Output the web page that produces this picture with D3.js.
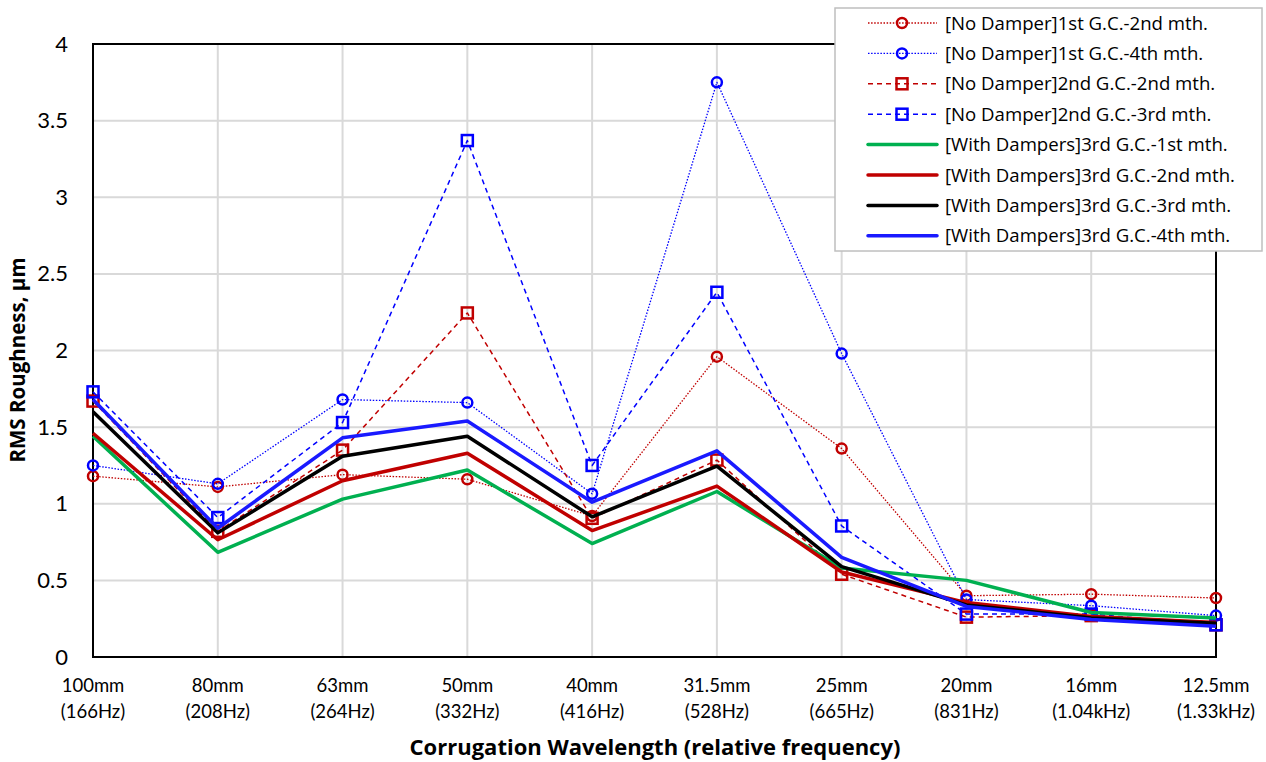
<!DOCTYPE html>
<html>
<head>
<meta charset="utf-8">
<script src="https://cdn.jsdelivr.net/npm/d3@7"></script>
<style>
  body { margin: 0; background: #fff; }
  text { font-family: Lato, "Open Sans", sans-serif; fill: #000; }
</style>
</head>
<body>
<svg id="chart"></svg>
<script>
const w = 1266;
const h = 762;

const wavelengths = ['100mm', '80mm', '63mm', '50mm', '40mm', '31.5mm', '25mm', '20mm', '16mm', '12.5mm'];
const freqs = ['(166Hz)', '(208Hz)', '(264Hz)', '(332Hz)', '(416Hz)', '(528Hz)', '(665Hz)', '(831Hz)', '(1.04kHz)', '(1.33kHz)'];
const yTicks = [0, 0.5, 1, 1.5, 2, 2.5, 3, 3.5, 4];

const seriesNames = [
  '[No Damper]1st G.C.-2nd mth.',
  '[No Damper]1st G.C.-4th mth.',
  '[No Damper]2nd G.C.-2nd mth.',
  '[No Damper]2nd G.C.-3rd mth.',
  '[With Dampers]3rd G.C.-1st mth.',
  '[With Dampers]3rd G.C.-2nd mth.',
  '[With Dampers]3rd G.C.-3rd mth.',
  '[With Dampers]3rd G.C.-4th mth.'
];

const nd1st2nd = [1.18, 1.11, 1.19, 1.16, 0.92, 1.96, 1.36, 0.40, 0.41, 0.385];
const nd1st4th = [1.25, 1.13, 1.68, 1.66, 1.065, 3.75, 1.98, 0.375, 0.335, 0.27];
const nd2nd2nd = [1.67, 0.82, 1.35, 2.245, 0.905, 1.285, 0.54, 0.26, 0.27, 0.21];
const nd2nd3rd = [1.73, 0.91, 1.53, 3.37, 1.25, 2.38, 0.855, 0.28, 0.28, 0.21];
const wd1st = [1.44, 0.683, 1.03, 1.22, 0.74, 1.08, 0.58, 0.50, 0.29, 0.255];
const wd2nd = [1.46, 0.765, 1.15, 1.33, 0.825, 1.115, 0.555, 0.355, 0.265, 0.225];
const wd3rd = [1.60, 0.81, 1.31, 1.44, 0.915, 1.245, 0.59, 0.34, 0.255, 0.22];
const wd4th = [1.68, 0.84, 1.43, 1.54, 1.01, 1.345, 0.65, 0.33, 0.245, 0.20];

const seriesValues = [nd1st2nd, nd1st4th, nd2nd2nd, nd2nd3rd, wd1st, wd2nd, wd3rd, wd4th];

const styles = [
  { color: '#c00000', width: 1.3, dash: '1.5,1.6', marker: 'circle' },
  { color: '#0000ff', width: 1.3, dash: '1.5,1.6', marker: 'circle' },
  { color: '#c00000', width: 1.5, dash: '5,4', marker: 'square' },
  { color: '#0000ff', width: 1.5, dash: '5,4', marker: 'square' },
  { color: '#00b050', width: 3.5, dash: null, marker: null },
  { color: '#c00000', width: 3.5, dash: null, marker: null },
  { color: '#000000', width: 3.5, dash: null, marker: null },
  { color: '#1a1aff', width: 3.5, dash: null, marker: null }
];

const svg = d3.select('#chart')
  .attr('width', w)
  .attr('height', h);

const pLeft = 93, pRight = 1216, pTop = 44, pBottom = 657;

const x = d3.scalePoint()
  .domain(wavelengths)
  .range([pLeft, pRight]);

const y = d3.scaleLinear()
  .domain([0, 4])
  .range([pBottom, pTop]);

// gridlines
svg.append('g')
  .selectAll('line')
  .data(yTicks)
  .enter()
  .append('line')
  .attr('x1', pLeft).attr('x2', pRight)
  .attr('y1', d => y(d)).attr('y2', d => y(d))
  .attr('stroke', '#d9d9d9')
  .attr('stroke-width', 2);

svg.append('g')
  .selectAll('line')
  .data(wavelengths)
  .enter()
  .append('line')
  .attr('x1', d => x(d)).attr('x2', d => x(d))
  .attr('y1', pTop).attr('y2', pBottom)
  .attr('stroke', '#d9d9d9')
  .attr('stroke-width', 2);

// frame
svg.append('rect')
  .attr('x', pLeft).attr('y', pTop)
  .attr('width', pRight - pLeft).attr('height', pBottom - pTop)
  .attr('fill', 'none')
  .attr('stroke', '#000')
  .attr('stroke-width', 2);

// y axis labels
const yAxis = d3.axisLeft(y)
  .tickValues(yTicks)
  .tickFormat(d3.format('~g'))
  .tickSize(0)
  .tickPadding(25);

svg.append('g')
  .attr('transform', `translate(${pLeft},0)`)
  .call(yAxis)
  .call(g => g.select('.domain').remove())
  .selectAll('text')
  .style('font-family', 'Lato, sans-serif')
  .style('font-size', '22px')
  .attr('fill', '#000');

// x axis labels (two lines)
const xAxis = d3.axisBottom(x).tickSize(0).tickFormat('');
const xg = svg.append('g')
  .attr('transform', `translate(0,${pBottom})`)
  .call(xAxis);
xg.select('.domain').remove();

const xl = svg.append('g');
xl.selectAll('text.l1')
  .data(wavelengths)
  .enter()
  .append('text')
  .attr('x', d => x(d))
  .attr('y', 692)
  .attr('text-anchor', 'middle')
  .style('font-size', '18.5px')
  .text(d => d);
xl.selectAll('text.l2')
  .data(wavelengths)
  .enter()
  .append('text')
  .attr('x', d => x(d))
  .attr('y', 718)
  .attr('text-anchor', 'middle')
  .style('font-size', '18.5px')
  .text((d, i) => freqs[i]);

// axis titles
svg.append('text')
  .attr('x', 655).attr('y', 755)
  .attr('text-anchor', 'middle')
  .style('font-family', '"Open Sans", sans-serif')
  .style('font-size', '22px')
  .style('font-weight', 'bold')
  .text('Corrugation Wavelength (relative frequency)');

svg.append('text')
  .attr('transform', 'translate(25,360) rotate(-90)')
  .attr('text-anchor', 'middle')
  .style('font-family', '"Open Sans", sans-serif')
  .style('font-size', '20.5px')
  .style('font-weight', 'bold')
  .text('RMS Roughness, µm');

// series
const line = d3.line()
  .x((d, i) => x(wavelengths[i]))
  .y(d => y(d));

function drawMarker(g, type, color, cx, cy) {
  if (type === 'circle') {
    g.append('circle')
      .attr('cx', cx).attr('cy', cy).attr('r', 5)
      .attr('fill', 'none')
      .attr('stroke', color)
      .attr('stroke-width', 2.5);
  } else if (type === 'square') {
    g.append('rect')
      .attr('x', cx - 5.5).attr('y', cy - 5.5)
      .attr('width', 11).attr('height', 11)
      .attr('fill', 'none')
      .attr('stroke', color)
      .attr('stroke-width', 2.5);
  }
}

const plot = svg.append('g');
seriesValues.forEach((vals, si) => {
  const s = styles[si];
  const g = plot.append('g');
  g.append('path')
    .datum(vals)
    .attr('d', line)
    .attr('fill', 'none')
    .attr('stroke', s.color)
    .attr('stroke-width', s.width)
    .attr('stroke-dasharray', s.dash)
    .attr('stroke-linejoin', 'round');
  if (s.marker) {
    vals.forEach((v, i) => drawMarker(g, s.marker, s.color, x(wavelengths[i]), y(v)));
  }
});

// legend
const legend = svg.append('g');
legend.append('rect')
  .attr('x', 835).attr('y', 8)
  .attr('width', 427).attr('height', 243)
  .attr('fill', '#fff')
  .attr('stroke', '#bfbfbf')
  .attr('stroke-width', 1.5);

seriesNames.forEach((name, i) => {
  const s = styles[i];
  const ly = 23 + i * 30.4;
  const g = legend.append('g');
  g.append('line')
    .attr('x1', 868).attr('x2', 937)
    .attr('y1', ly).attr('y2', ly)
    .attr('stroke', s.color)
    .attr('stroke-width', s.width)
    .attr('stroke-dasharray', s.dash)
    .attr('stroke-linecap', s.dash ? 'butt' : 'round');
  if (s.marker) drawMarker(g, s.marker, s.color, 902, ly);
  g.append('text')
    .attr('x', 945).attr('y', ly + 6.5)
    .style('font-family', '"Open Sans", sans-serif')
    .style('font-size', '18.6px')
    .text(name);
});
</script>
</body>
</html>
